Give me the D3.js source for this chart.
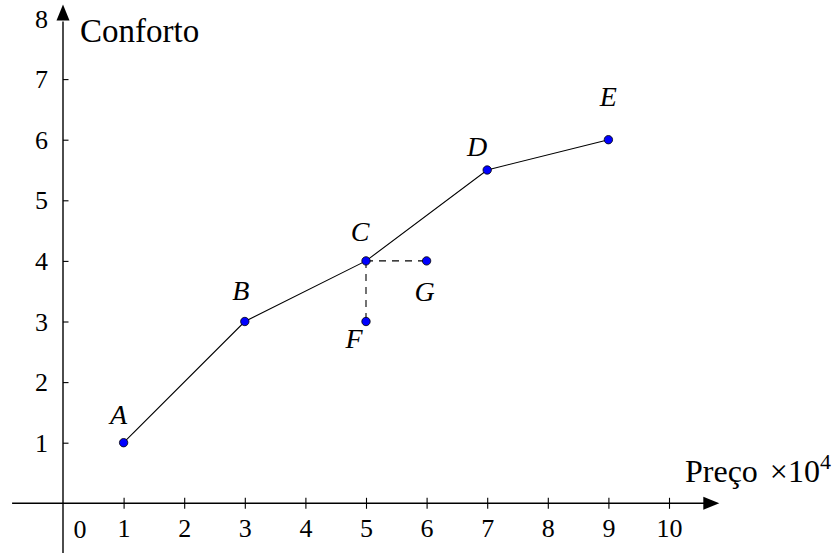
<!DOCTYPE html>
<html>
<head>
<meta charset="utf-8">
<script src="https://cdn.jsdelivr.net/npm/d3@7"></script>
<style>
  html, body { margin: 0; padding: 0; background: #fff; }
  svg { display: block; font-family: "Liberation Serif", "DejaVu Serif", serif; }
</style>
</head>
<body>
<div id="view"></div>
<script>
// ---- data ----
const pathNames = ["A", "B", "C", "D", "E"];
const pathX = [1, 3, 5, 7, 9];
const pathY = [1, 3, 4, 5.5, 6];
const extraNames = ["F", "G"];
const extraX = [5, 6];
const extraY = [3, 4];
const xTicks = [1, 2, 3, 4, 5, 6, 7, 8, 9, 10];
const yTicks = [1, 2, 3, 4, 5, 6, 7, 8];

// label offsets (px) per point name
const labelOff = {
  A: [-5, -19], B: [-4, -22], C: [-6, -20], D: [-10, -14],
  E: [0, -34], F: [-12, 26], G: [-2, 40]
};

const W = 840, H = 556;
const svg = d3.select("#view").append("svg").attr("width", W).attr("height", H);

const x = d3.scaleLinear().domain([0, 10]).range([63, 669]);
const y = d3.scaleLinear().domain([0, 8]).range([503.3, 18.5]);

// ---- axis lines with arrows ----
const axisCol = "#000";
svg.append("line")
  .attr("x1", x(-0.84)).attr("x2", x(10.6))
  .attr("y1", y(0)).attr("y2", y(0))
  .attr("stroke", axisCol).attr("stroke-width", 1.4);
svg.append("line")
  .attr("x1", x(0)).attr("x2", x(0))
  .attr("y1", y(-0.82)).attr("y2", y(7.95))
  .attr("stroke", axisCol).attr("stroke-width", 1.4);

const xTip = x(10.83), yTip = y(8.23);
svg.append("path")
  .attr("d", `M${xTip},${y(0)} L${xTip - 16},${y(0) - 6.5} L${xTip - 16},${y(0) + 6.5} Z`)
  .attr("fill", axisCol);
svg.append("path")
  .attr("d", `M${x(0)},${yTip} L${x(0) - 6.5},${yTip + 16} L${x(0) + 6.5},${yTip + 16} Z`)
  .attr("fill", axisCol);

// ---- ticks ----
const gx = svg.append("g")
  .attr("transform", `translate(0,${y(0)})`)
  .call(d3.axisBottom(x).tickValues(xTicks).tickSize(5.5).tickPadding(0).tickFormat(d3.format("d")));
gx.select(".domain").remove();
gx.selectAll(".tick line").attr("y1", -5.5).attr("stroke-width", 1.1);
gx.selectAll(".tick text")
  .attr("y", 34).attr("dy", 0)
  .style("font-size", "26px").style("font-family", "Liberation Serif").attr("fill", "#000");

const gy = svg.append("g")
  .attr("transform", `translate(${x(0)},0)`)
  .call(d3.axisLeft(y).tickValues(yTicks).tickSize(5.5).tickPadding(0).tickFormat(d3.format("d")));
gy.select(".domain").remove();
gy.selectAll(".tick line").attr("x2", 5.5).attr("stroke-width", 1.1)
  .filter(d => d === 8).remove();
gy.selectAll(".tick text")
  .attr("x", -15).attr("dy", "0.33em")
  .style("font-size", "26px").style("font-family", "Liberation Serif").attr("fill", "#000");

// origin label
svg.append("text")
  .attr("x", x(0) + 17).attr("y", y(0) + 35)
  .attr("text-anchor", "middle")
  .style("font-size", "26px")
  .text("0");

// axis titles
svg.append("text")
  .attr("x", 80).attr("y", 41.5)
  .style("font-size", "33px")
  .text("Conforto");

const xt = svg.append("text")
  .attr("x", 685).attr("y", 482)
  .style("font-size", "32px");
xt.append("tspan").text("Preço ");
xt.append("tspan").attr("dx", 4).text("×10");
xt.append("tspan").attr("dy", -13).style("font-size", "22px").text("4");

// ---- polyline ----
const pts = pathX.map((v, i) => ({ name: pathNames[i], x: v, y: pathY[i] }));
const ext = extraX.map((v, i) => ({ name: extraNames[i], x: v, y: extraY[i] }));

svg.append("path")
  .datum(pts)
  .attr("d", d3.line().x(d => x(d.x)).y(d => y(d.y)))
  .attr("fill", "none").attr("stroke", "#000").attr("stroke-width", 1.1);

// dashed links from C
const c = pts[2];
svg.selectAll("line.dash")
  .data(ext)
  .join("line")
  .attr("class", "dash")
  .attr("x1", x(c.x)).attr("y1", y(c.y))
  .attr("x2", d => x(d.x)).attr("y2", d => y(d.y))
  .attr("stroke", "#000").attr("stroke-width", 1.1)
  .attr("stroke-dasharray", "7,6");

// ---- points ----
const all = pts.concat(ext);
svg.selectAll("circle.pt")
  .data(all)
  .join("circle")
  .attr("class", "pt")
  .attr("cx", d => x(d.x)).attr("cy", d => y(d.y))
  .attr("r", 4.2)
  .attr("fill", "#0000ff").attr("stroke", "#000").attr("stroke-width", 0.8);

svg.selectAll("text.lbl")
  .data(all)
  .join("text")
  .attr("class", "lbl")
  .attr("x", d => x(d.x) + labelOff[d.name][0])
  .attr("y", d => y(d.y) + labelOff[d.name][1])
  .attr("text-anchor", "middle")
  .style("font-size", "28px").style("font-style", "italic")
  .text(d => d.name);
</script>
</body>
</html>
